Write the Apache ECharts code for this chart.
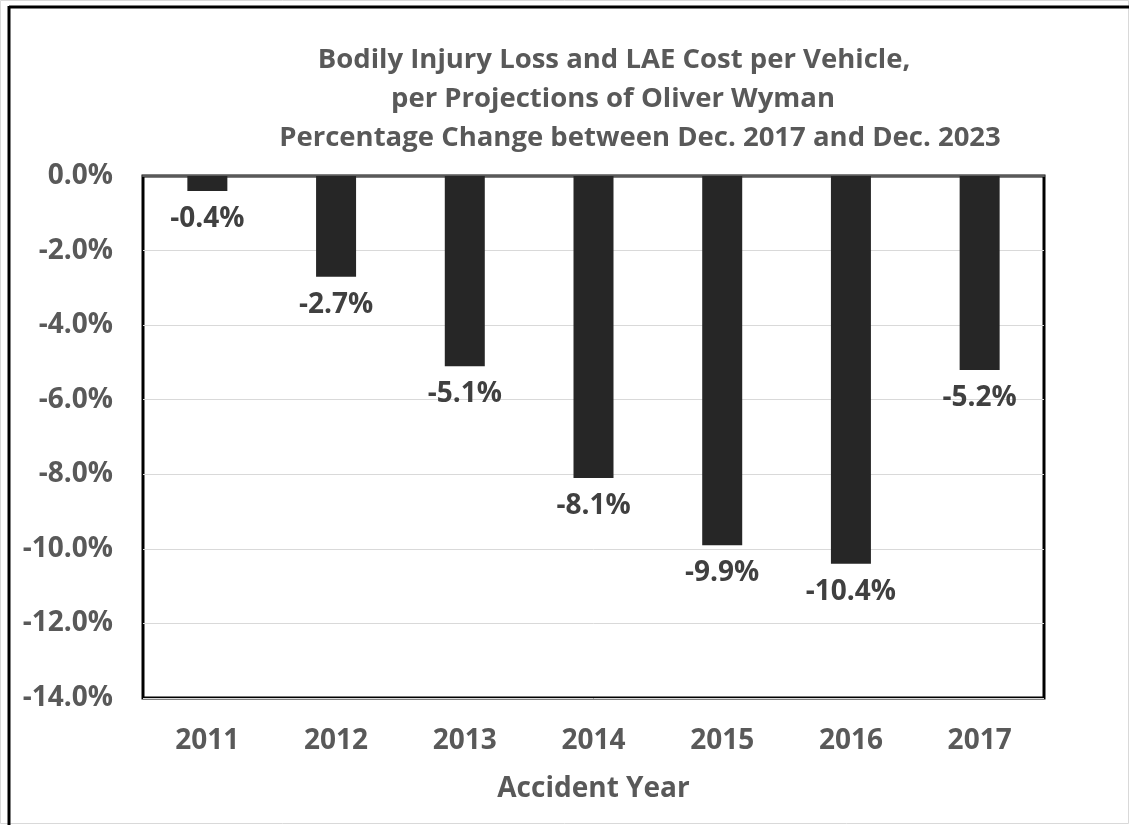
<!DOCTYPE html>
<html>
<head>
<meta charset="utf-8">
<script src="https://cdn.jsdelivr.net/npm/echarts@6/dist/echarts.min.js"></script>
<style>
html,body{margin:0;padding:0;background:#fff;}
#c{width:1129px;height:825px;}
</style>
</head>
<body>
<div id="c"></div>
<script>
const categories = ['2011','2012','2013','2014','2015','2016','2017'];
const values = [-0.4, -2.7, -5.1, -8.1, -9.9, -10.4, -5.2];
const titleLines = [
  'Bodily Injury Loss and LAE Cost per Vehicle,',
  'per Projections of Oliver Wyman',
  'Percentage Change between Dec. 2017 and Dec. 2023'
];
const xAxisName = 'Accident Year';

const FONT = '"Open Sans"';
const chart = echarts.init(document.getElementById('c'), null, {renderer:'canvas'});
chart.setOption({
  backgroundColor: '#fff',
  animation: false,
  graphic: [
    {type:'rect', shape:{x:0.5,y:0.5,width:1128,height:823}, style:{fill:'none', stroke:'#d9d9d9', lineWidth:1}, z:0},
    {type:'line', shape:{x1:9,y1:7,x2:1129,y2:7}, style:{stroke:'#000', lineWidth:3}, z:0},
    {type:'line', shape:{x1:9,y1:6,x2:9,y2:825}, style:{stroke:'#000', lineWidth:3}, z:0},
    {type:'text', x:614, y:60, style:{text:titleLines[0], font:'bold 27.5px '+FONT, fill:'#595959', textAlign:'center', textVerticalAlign:'middle'}},
    {type:'text', x:613, y:99, style:{text:titleLines[1], font:'bold 27.5px '+FONT, fill:'#595959', textAlign:'center', textVerticalAlign:'middle'}},
    {type:'text', x:640, y:138, style:{text:titleLines[2], font:'bold 27.5px '+FONT, fill:'#595959', textAlign:'center', textVerticalAlign:'middle'}}
  ],
  grid: {left:143, right:85, top:176, bottom:127, show:true, borderColor:'#000', borderWidth:3, backgroundColor:'transparent', containLabel:false},
  xAxis: [{
    type:'category', data:categories, position:'bottom',
    axisLine:{show:false, onZero:false}, axisTick:{show:false},
    axisLabel:{color:'#595959', fontFamily:FONT, fontWeight:'bold', fontSize:28, margin:29},
    name:xAxisName, nameLocation:'middle', nameGap:77,
    nameTextStyle:{color:'#595959', fontFamily:FONT, fontWeight:'bold', fontSize:28}
  },{
    type:'category', data:categories, position:'top',
    axisLine:{show:true, onZero:false, lineStyle:{color:'#595959', width:2}}, axisTick:{show:false}, axisLabel:{show:false}
  }],
  yAxis: {
    type:'value', min:-14, max:0, interval:2,
    axisLine:{show:false}, axisTick:{show:false},
    splitLine:{show:true, lineStyle:{color:'#d9d9d9', width:1}},
    axisLabel:{color:'#595959', fontFamily:FONT, fontWeight:'bold', fontSize:28, margin:30,
      formatter: v => v.toFixed(1) + '%'}
  },
  series: [{
    type:'bar', data:values, barWidth:40, xAxisIndex:0,
    itemStyle:{color:'#262626'},
    label:{show:true, position:'bottom', distance:14, color:'#404040', fontFamily:FONT, fontWeight:'bold', fontSize:28,
      formatter: p => p.value.toFixed(1) + '%'}
  }]
});
</script>
</body>
</html>
